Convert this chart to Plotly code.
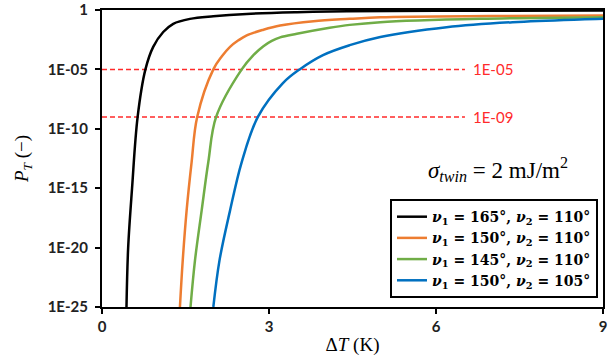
import math
import plotly.graph_objects as go

# ---- data ----
black_x = [0.44, 0.47, 0.54, 0.64, 0.78, 0.92, 1.10, 1.28, 1.58, 2.0, 2.6, 3.5, 4.4, 6.0, 9.0]
black_y = [1e-25, 1e-20, 1e-15, 1e-9, 1e-5, 7.9e-4, 1.4e-2, 6.9e-2, 0.18, 0.30, 0.47, 0.65, 0.78, 0.86, 0.91]

orange_x = [1.40, 1.45, 1.52, 1.61, 1.71, 2.0, 2.15, 2.30, 2.45, 2.60, 2.90, 3.20, 3.80, 4.45, 5.0, 7.0, 9.0]
orange_y = [1e-25, 8e-22, 1.3e-17, 1.6e-13, 1e-9, 1e-5, 1.2e-4, 7.9e-4, 2.8e-3, 7.4e-3, 2.2e-2, 5e-2, 0.115, 0.18, 0.245, 0.31, 0.34]

green_x = [1.59, 1.67, 1.79, 1.91, 2.05, 2.51, 2.72, 2.90, 3.05, 3.20, 3.50, 4.09, 4.45, 5.0, 6.79, 9.0]
green_y = [1e-25, 8e-22, 1.3e-17, 1.6e-13, 1e-9, 1e-5, 1.6e-4, 9e-4, 2.5e-3, 5e-3, 1e-2, 3.2e-2, 5.6e-2, 9.5e-2, 0.18, 0.25]

blue_x = [2.0, 2.11, 2.30, 2.51, 2.80, 3.25, 3.55, 3.97, 4.45, 5.0, 6.19, 7.38, 8.58, 9.0]
blue_y = [1e-25, 8e-22, 1.3e-17, 1.6e-13, 1e-9, 7e-7, 1e-5, 1.6e-4, 1.1e-3, 5.4e-3, 3.6e-2, 9.5e-2, 0.16, 0.18]

series_names = [
    "<b><i>ν</i><sub>1</sub> = 165°, <i>ν</i><sub>2</sub> = 110°</b>",
    "<b><i>ν</i><sub>1</sub> = 150°, <i>ν</i><sub>2</sub> = 110°</b>",
    "<b><i>ν</i><sub>1</sub> = 145°, <i>ν</i><sub>2</sub> = 110°</b>",
    "<b><i>ν</i><sub>1</sub> = 150°, <i>ν</i><sub>2</sub> = 105°</b>",
]
series_colors = ["#000000", "#ED7D31", "#70AD47", "#0070C0"]

threshold_values = [1e-5, 1e-9]
threshold_labels = ["1E-05", "1E-09"]
threshold_x_end = 6.52

x_ticks = [0, 3, 6, 9]
y_tickvals = [1e-25, 1e-20, 1e-15, 1e-10, 1e-5, 1]
y_ticktext = ["1E-25", "1E-20", "1E-15", "1E-10", "1E-05", "1"]

# ---- figure ----
fig = go.Figure()

for thr in threshold_values:
    fig.add_trace(go.Scatter(
        x=[0, threshold_x_end], y=[thr, thr], mode="lines",
        line=dict(color="#FF2A2A", width=1.5, dash="5px,3px"),
        showlegend=False, hoverinfo="skip"))

xs = [black_x, orange_x, green_x, blue_x]
ys = [black_y, orange_y, green_y, blue_y]
for x, y, n, c in zip(xs, ys, series_names, series_colors):
    fig.add_trace(go.Scatter(
        x=x, y=y, mode="lines", name=n,
        line=dict(color=c, width=2.5, shape="spline", smoothing=1.0)))

for thr, lab in zip(threshold_values, threshold_labels):
    fig.add_annotation(x=threshold_x_end + 0.1, y=math.log10(thr),
                       text=lab, showarrow=False, xanchor="left", yanchor="middle",
                       font=dict(family="Lato", size=15, color="#FF2A2A"))

fig.add_annotation(xref="paper", yref="paper", x=0.79, y=0.462,
                   text="<i>σ</i><sub><i>twin</i></sub> = 2 mJ/m<sup>2</sup>",
                   showarrow=False, xanchor="center", yanchor="middle",
                   font=dict(family="Liberation Serif", size=23, color="black"))

fig.update_layout(
    width=609, height=358,
    margin=dict(l=102, r=6, t=10, b=51, autoexpand=False),
    paper_bgcolor="white", plot_bgcolor="white",
    showlegend=True,
    legend=dict(x=0.99, y=0.03, xanchor="right", yanchor="bottom",
                bgcolor="white", bordercolor="black", borderwidth=2,
                font=dict(family="DejaVu Serif", size=14, color="black"),
                tracegroupgap=0, itemwidth=30),
    xaxis=dict(range=[0, 9], tickvals=x_ticks, showgrid=False, zeroline=False,
               automargin=False,
               showline=True, linecolor="black", linewidth=2, mirror=True,
               ticks="outside", ticklen=5, tickwidth=2, tickcolor="black",
               tickfont=dict(family="Lato", size=15, color="#222", weight="bold"),
               title=dict(text="Δ<i>T</i> (K)", standoff=4,
                          font=dict(family="Liberation Serif", size=19, color="black"))),
    yaxis=dict(type="log", range=[-25, 0], tickvals=y_tickvals, ticktext=y_ticktext,
               showgrid=False, zeroline=False, automargin=False,
               showline=True, linecolor="black", linewidth=2, mirror=True,
               ticks="outside", ticklen=5, tickwidth=2, tickcolor="black",
               ticklabeloverflow="allow", ticklabelstandoff=4,
               tickfont=dict(family="Lato", size=15, color="#222", weight="bold"),
               title=dict(text="<i>P</i><sub><i>T</i></sub> (−)", standoff=14,
                          font=dict(family="Liberation Serif", size=19, color="black"))),
)

fig.write_html("out.html")
